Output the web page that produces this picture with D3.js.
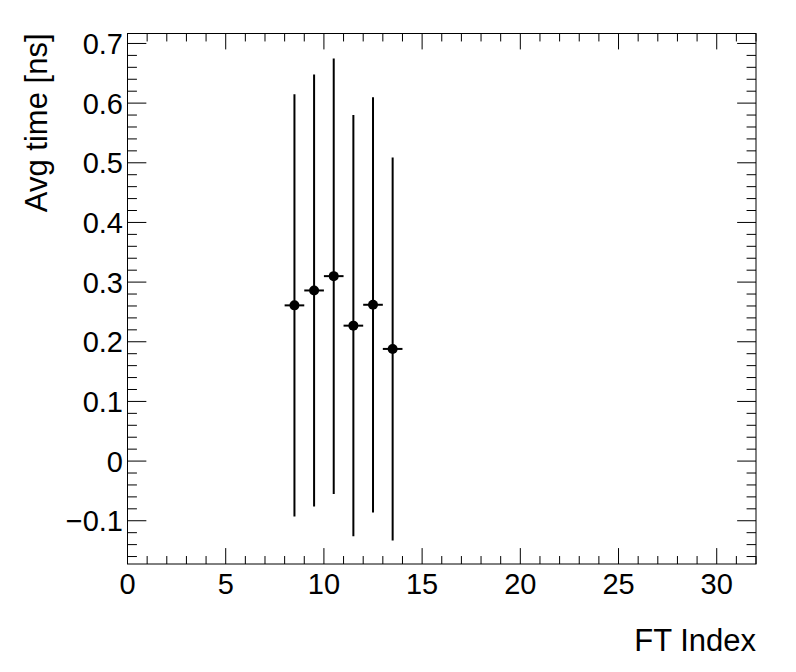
<!DOCTYPE html>
<html>
<head>
<meta charset="utf-8">
<script src="https://cdn.jsdelivr.net/npm/d3@7"></script>
<style>
  body { margin: 0; background: #fff; }
  text { font-family: "Liberation Sans", Arial, sans-serif; fill: #000; }
</style>
</head>
<body>
<div id="chart"></div>
<script>
// FT index (bin centres), mean time and its error
const ftIndex = [8.5, 9.5, 10.5, 11.5, 12.5, 13.5];
const avgTime = [0.261, 0.286, 0.310, 0.227, 0.262, 0.188];
const timeErr = [0.354, 0.362, 0.365, 0.353, 0.348, 0.321];
const xTicks = [0, 5, 10, 15, 20, 25, 30];
const yTicks = [-0.1, 0, 0.1, 0.2, 0.3, 0.4, 0.5, 0.6, 0.7];

const width = 796, height = 672,
  margin = {top: 33.5, right: 40, bottom: 108, left: 127.5};

const svg = d3.select("#chart").append("svg")
  .attr("width", width).attr("height", height);

const x = d3.scaleLinear().domain([0, 32])
  .range([margin.left, width - margin.right]);
const y = d3.scaleLinear().domain([-0.1725, 0.7167])
  .range([height - margin.bottom, margin.top]);

const x0 = x.range()[0], x1 = x.range()[1], y0 = y.range()[0], y1 = y.range()[1];
const fw = x1 - x0, fh = y0 - y1;
const xMaj = 0.03 * fh, xMin = xMaj / 2;
const yMaj = 0.03 * fw, yMin = yMaj / 2;

const xMinor = d3.range(0, 33, 1);
const yMinor = d3.range(-16, 72, 2).map(d => d / 100).filter(d => y(d) <= y0 + 0.5 && y(d) >= y1 - 0.5);

const ticks = svg.append("g").attr("stroke", "#000").attr("stroke-width", 1);

// x ticks, bottom and top
xMinor.forEach(v => {
  const len = v % 5 === 0 ? xMaj : xMin;
  ticks.append("line").attr("x1", x(v)).attr("x2", x(v)).attr("y1", y0).attr("y2", y0 - len);
  ticks.append("line").attr("x1", x(v)).attr("x2", x(v)).attr("y1", y1).attr("y2", y1 + len);
});

// y ticks, left and right
yMinor.forEach(v => {
  const major = Math.abs(Math.round(v * 100) % 10) === 0;
  const len = major ? yMaj : yMin;
  ticks.append("line").attr("x1", x0).attr("x2", x0 + len).attr("y1", y(v)).attr("y2", y(v));
  ticks.append("line").attr("x1", x1).attr("x2", x1 - len).attr("y1", y(v)).attr("y2", y(v));
});

// frame
svg.append("rect")
  .attr("x", x0).attr("y", y1).attr("width", fw).attr("height", fh)
  .attr("fill", "none").attr("stroke", "#000").attr("stroke-width", 1);

// tick labels
svg.selectAll(".xlab").data(xTicks).enter().append("text")
  .attr("class", "xlab")
  .attr("x", d => x(d)).attr("y", y0 + 30)
  .attr("text-anchor", "middle").style("font-size", "29px")
  .text(d => d);

svg.selectAll(".ylab").data(yTicks).enter().append("text")
  .attr("class", "ylab")
  .attr("x", x0 - 4.5).attr("y", d => y(d) + 10.5)
  .attr("text-anchor", "end").style("font-size", "29px")
  .text(d => d < 0 ? "\u2212" + d3.format("")(-d) : d3.format("")(d));

// axis titles
svg.append("text")
  .attr("x", x1).attr("y", 651)
  .attr("text-anchor", "end").style("font-size", "31px")
  .text("FT Index");

svg.append("text")
  .attr("transform", "translate(47," + y1 + ") rotate(-90)")
  .attr("text-anchor", "end").style("font-size", "31px")
  .text("Avg time [ns]");

// points with errors
const pts = ftIndex.map((d, i) => ({x: d, y: avgTime[i], e: timeErr[i]}));
const g = svg.append("g").attr("stroke", "#000").attr("stroke-width", 2);

g.selectAll(".ev").data(pts).enter().append("line")
  .attr("x1", d => x(d.x)).attr("x2", d => x(d.x))
  .attr("y1", d => y(d.y + d.e)).attr("y2", d => y(d.y - d.e));

g.selectAll(".eh").data(pts).enter().append("line")
  .attr("x1", d => x(d.x - 0.5)).attr("x2", d => x(d.x + 0.5))
  .attr("y1", d => y(d.y)).attr("y2", d => y(d.y));

svg.selectAll(".dot").data(pts).enter().append("circle")
  .attr("cx", d => x(d.x)).attr("cy", d => y(d.y))
  .attr("r", 5).attr("fill", "#000");
</script>
</body>
</html>
